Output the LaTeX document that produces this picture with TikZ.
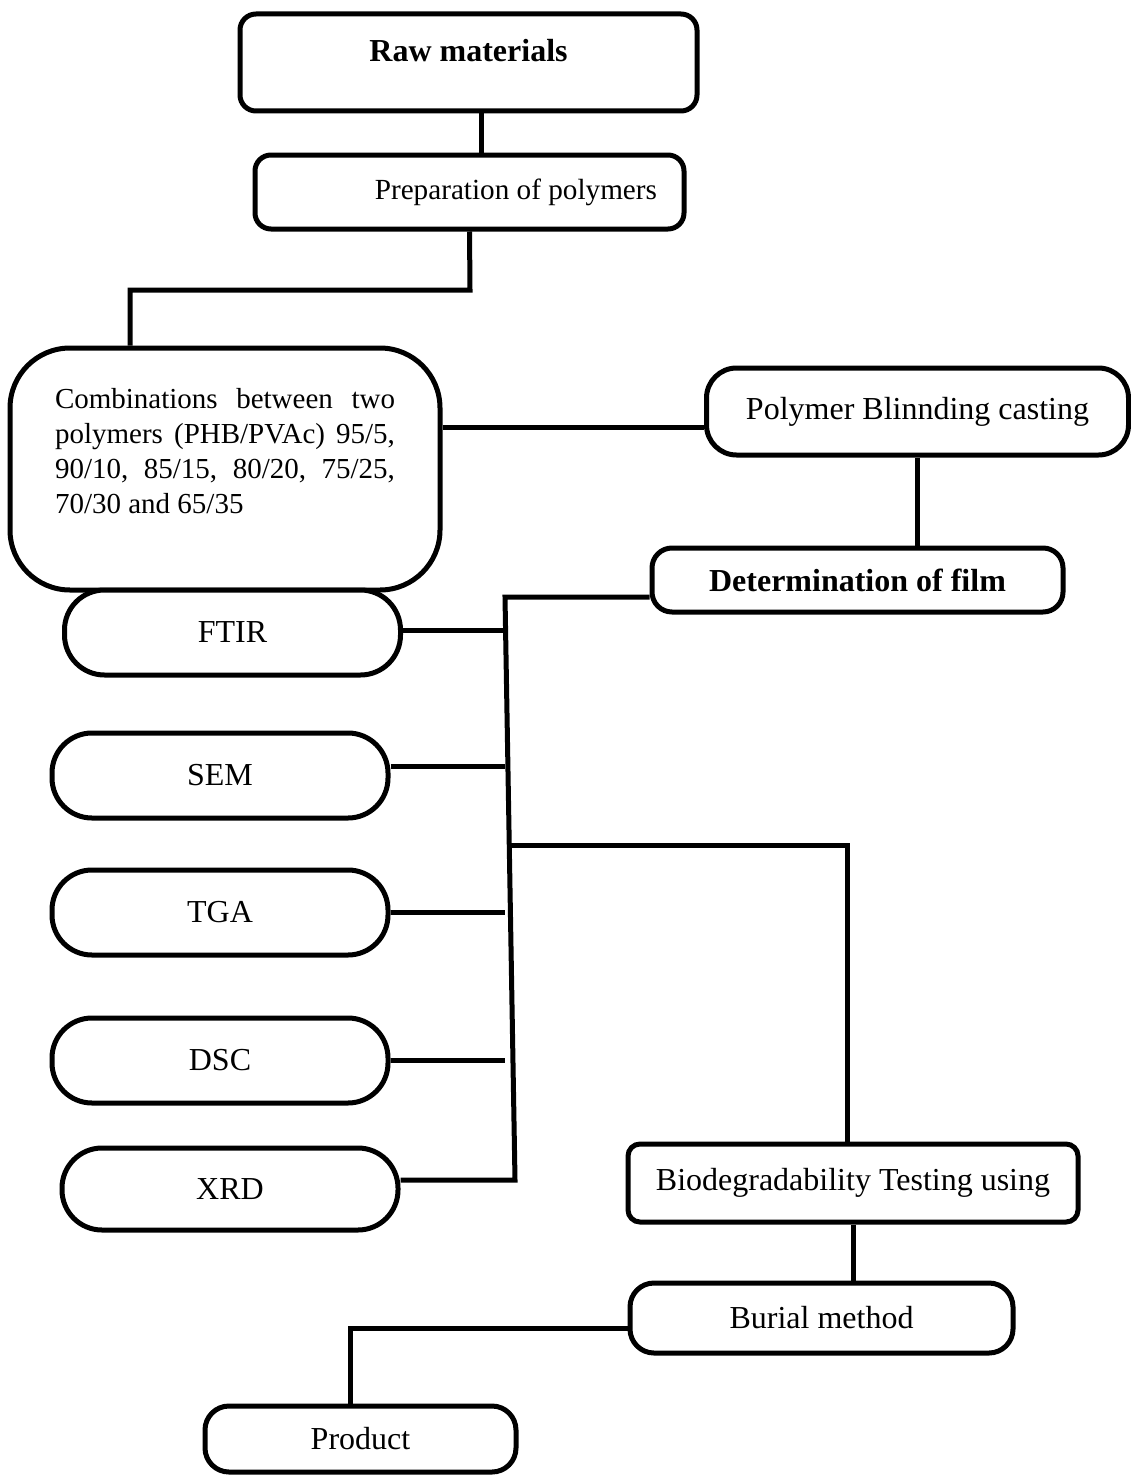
\documentclass[tikz,border=0pt]{standalone}
\usepackage{fontspec}
\setmainfont{Liberation Serif}
\usepackage{tikz}
\usetikzlibrary{calc}
\tikzset{
    stage/.style={
        rectangle, rounded corners=8pt,
        draw=black, fill=white, line width=2.5pt,
        inner sep=0pt, align=center,
        font=\fontsize{16}{19}\selectfont
    },
    pill/.style={
        stage, rounded corners=20pt,
        minimum width=168pt, minimum height=42.5pt
    },
    link/.style={line width=2.5pt, draw=black}
}

\begin{document}
\begin{tikzpicture}[x=0.5pt, y=-0.5pt]
    \useasboundingbox (0,0) rectangle (1130,1477);

    \node[stage, minimum width=228.5pt, minimum height=48.5pt, text height=11pt, text depth=12pt, font=\fontsize{16}{19}\selectfont\bfseries] (raw) at (468.5,62.5) {Raw materials};
    \node[stage, minimum width=214.5pt, minimum height=37pt, text width=187.5pt, inner xsep=13.5pt, align=flush right, font=\fontsize{14.6}{17.5}\selectfont] (prep) at (469.5,192) {Preparation of polymers};
    \node[stage, rounded corners=30pt, minimum width=215pt, minimum height=121pt, text width=170pt, text height=10pt, text depth=70.5pt, align=justify, font=\fontsize{14.5}{17.5}\selectfont] (combo) at (225,469)
        {Combinations between two polymers (PHB/PVAc) 95/5, 90/10, 85/15, 80/20, 75/25, 70/30 and 65/35};
    \node[stage, rounded corners=15pt, minimum width=211pt, minimum height=43.5pt] (blend) at (917.5,411.5) {Polymer Blinnding casting};
    \node[stage, rounded corners=10pt, minimum width=205.5pt, minimum height=32pt, font=\fontsize{16}{19}\selectfont\bfseries] (determ) at (857.5,580) {Determination of film};

    \node[pill] (ftir) at (232.5,632.5) {FTIR};
    \node[pill] (sem) at (220,775.5) {SEM};
    \node[pill] (tga) at (220,912.5) {TGA};
    \node[pill] (dsc) at (220,1060.5) {DSC};
    \node[pill, minimum height=41pt] (xrd) at (230,1189) {XRD};

    \node[stage, rounded corners=6pt, minimum width=225pt, minimum height=39pt] (bio) at (853,1183) {Biodegradability Testing using};
    \node[stage, rounded corners=12pt, minimum width=191.5pt, minimum height=35pt] (burial) at (821.5,1318) {Burial method};
    \node[stage, rounded corners=12pt, minimum width=155.5pt, minimum height=33pt] (product) at (360.5,1439) {Product};

    % turning points of the connectors
    \coordinate (rp) at (481,0);
    \coordinate (bendA) at (470,290);
    \coordinate (bendB) at (130,290);
    \coordinate (cb) at (0,427);
    \coordinate (spineTop) at (505,597);
    \coordinate (spineBot) at (515,1180);
    \coordinate (sp) at (505,0);
    \coordinate (branch) at (507,845);
    \coordinate (bioTurn) at (847,845);
    \coordinate (prodTurn) at (350,1328);

    \draw[link] (rp |- raw.south) -- (rp |- prep.north);
    \draw[link] (prep.south) -- (bendA) -- (bendB) -- (bendB |- combo.north);
    \draw[link] (cb -| combo.east) -- (cb -| blend.west);
    \draw[link] (blend.south) -- (blend.south |- determ.north);
    \draw[link] (spineTop -| determ.west) -- (spineTop) -- (spineBot) -- (spineBot -| xrd.east);
    \foreach \t/\dy in {ftir/1.2,sem/4.5,tga/0,dsc/0}
        \draw[link] ([yshift=\dy pt]\t.east) -- ([yshift=\dy pt]\t.east -| sp);
    \draw[link] (branch) -- (bioTurn) -- (bioTurn |- bio.north);
    \draw[link] (bio.south) -- (bio.south |- burial.north);
    \draw[link] (prodTurn -| burial.west) -- (prodTurn) -- (prodTurn |- product.north);
\end{tikzpicture}
\end{document}
